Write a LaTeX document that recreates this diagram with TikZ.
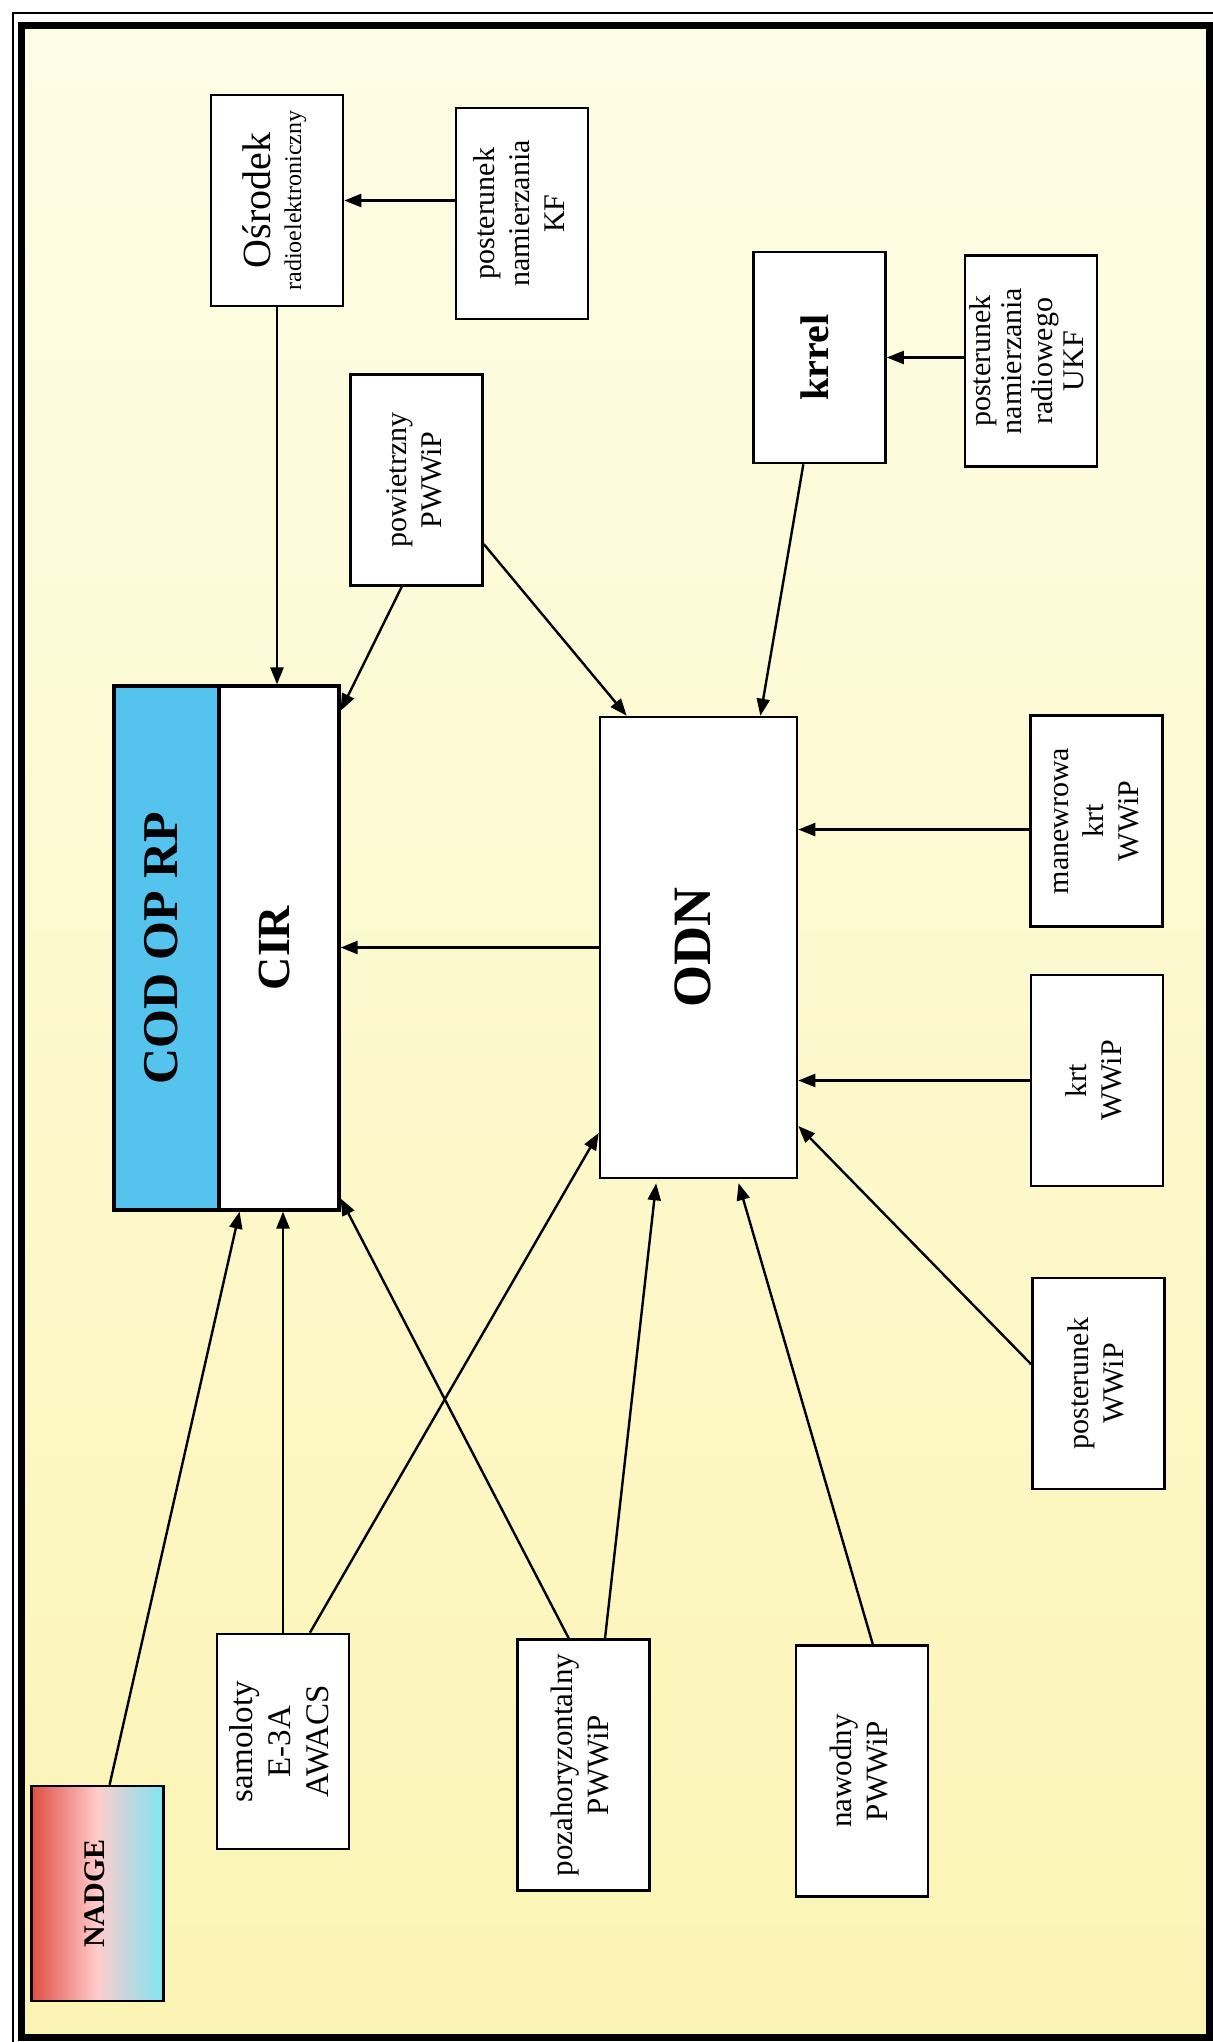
\documentclass[tikz,border=0pt]{standalone}
\usepackage{fontspec}
\setmainfont{Liberation Serif}
\usetikzlibrary{arrows.meta, calc}

\definecolor{paper}{RGB}{254,253,230}
\definecolor{paperlow}{RGB}{251,244,180}
\definecolor{codblue}{RGB}{84,196,238}
\definecolor{nadgered}{RGB}{222,78,66}
\definecolor{nadgecyan}{RGB}{125,228,242}

% text of a box, set upright along the page (reads bottom to top)
\newcommand{\vtxt}[1]{\rotatebox{90}{\begin{tabular}{@{}c@{}}#1\end{tabular}}}

\begin{document}
\begin{tikzpicture}[
  x=0.5pt, y=-0.5pt,
  >={Triangle[length=8.5pt, width=6.5pt]},
  every node/.style={font=\fontsize{15}{17.5}\selectfont},
  box/.style   = {draw=black, line width=1.3pt, fill=white, inner sep=0pt, minimum width=66pt, minimum height=105.5pt},
  tallbox/.style = {box, minimum height=107.5pt},
  longbox/.style = {box, minimum height=125.5pt},
  codbox/.style  = {draw=black, line width=1.6pt, inner sep=0pt, minimum height=262pt},
  arr/.style   = {->, line width=1.2pt, black},
]
  \useasboundingbox (0,0) rectangle (1213,2042);
  % paper and double frame
  \shade[top color=paper, bottom color=paperlow] (21,25) rectangle (1210,2037);
  \draw[line width=1pt] (13,2042) -- (13,13) -- (1213,13);
  \draw[line width=3.5pt] (21.5,25) rectangle (1209.5,2037);

  % top row
  \node[box] (osr)   at (277,200.5)  {\vtxt{{\fontsize{20}{22}\selectfont Ośrodek}\\[-2pt]{\fontsize{12}{13}\selectfont radioelektroniczny}}};
  \node[box] (kf)    at (522,213.5)  {\vtxt{posterunek\\namierzania\\KF}};
  \node[box, font=\fontsize{20}{22}\selectfont\bfseries] (krrel) at (819.5,357.5) {\vtxt{krrel}};
  \node[box, font=\fontsize{15}{15.5}\selectfont] (ukf) at (1031,361) {\vtxt{posterunek\\namierzania\\radiowego\\UKF}};
  \node[box] (pow)   at (416.5,480)  {\vtxt{powietrzny\\PWWiP}};

  % centres
  \node[codbox, fill=codblue, minimum width=52.5pt, font=\fontsize{25}{28}\selectfont\bfseries] (cod) at (166.5,948) {\vtxt{COD OP RP}};
  \node[codbox, fill=white, minimum width=60pt, font=\fontsize{23}{26}\selectfont\bfseries] (cir) at (279,948) {\vtxt{CIR}};
  \node[box, minimum width=98.5pt, minimum height=230.5pt, font=\fontsize{27}{30}\selectfont\bfseries] (odn) at (698.5,947.5) {\vtxt{ODN}};

  % right column
  \node[box] (man)   at (1096.5,821)  {\vtxt{manewrowa\\krt\\WWiP}};
  \node[box] (krt)   at (1097,1080.5) {\vtxt{krt\\WWiP}};
  \node[box] (pwwip) at (1098.5,1383.5) {\vtxt{posterunek\\WWiP}};

  % bottom row
  \node[tallbox, left color=nadgered, right color=nadgecyan, middle color=white!80!red, font=\fontsize{15}{17.5}\selectfont\bfseries] (nadge) at (97.5,1893.5) {\vtxt{NADGE}};
  \node[tallbox, font=\fontsize{16.5}{19}\selectfont] (awacs) at (283,1741.5) {\vtxt{samoloty\\E-3A\\AWACS}};
  \node[longbox, font=\fontsize{15.5}{18}\selectfont] (poza) at (583.5,1765) {\vtxt{pozahoryzontalny\\PWWiP}};
  \node[longbox, font=\fontsize{15.5}{18}\selectfont] (naw) at (862,1771) {\vtxt{nawodny\\PWWiP}};

  % connectors
  \draw[arr] (osr.south) -- (osr.south |- cir.north);
  \draw[arr] (kf.west |- osr.east) -- (osr.east);
  \draw[arr] (ukf.west |- krrel.east) -- (krrel.east);
  \draw[arr] ($(pow.south west)!.39!(pow.south east)$) -- ($(cir.north east)!.05!(cir.south east)$);
  \draw[arr] ($(pow.north east)!.8!(pow.south east)$) -- ($(odn.north west)!.14!(odn.north east)$);
  \draw[arr] ($(krrel.south west)!.38!(krrel.south east)$) -- ($(odn.north west)!.81!(odn.north east)$);
  \draw[arr] (odn.west) -- (odn.west -| cir.east);
  \coordinate (m1) at ($(man.north west)!.54!(man.south west)$);
  \draw[arr] (m1) -- (m1 -| odn.east);
  \draw[arr] (krt.west) -- (krt.west -| odn.east);
  \draw[arr] ($(pwwip.north west)!.41!(pwwip.south west)$) -- ($(odn.north east)!.885!(odn.south east)$);
  \draw[arr] ($(nadge.north west)!.59!(nadge.north east)$) -- ($(cir.south west)!.18!(cir.south east)$);
  \draw[arr] (awacs.north) -- (awacs.north |- cir.south);
  \draw[arr] ($(awacs.north west)!.7!(awacs.north east)$) -- ($(odn.north west)!.9!(odn.south west)$);
  \draw[arr] ($(poza.north west)!.39!(poza.north east)$) -- ($(cir.north east)!.975!(cir.south east)$);
  \draw[arr, shorten >=2pt] ($(poza.north west)!.66!(poza.north east)$) -- ($(odn.south west)!.29!(odn.south east)$);
  \draw[arr, shorten >=2pt] ($(naw.north west)!.58!(naw.north east)$) -- ($(odn.south west)!.695!(odn.south east)$);
\end{tikzpicture}
\end{document}
